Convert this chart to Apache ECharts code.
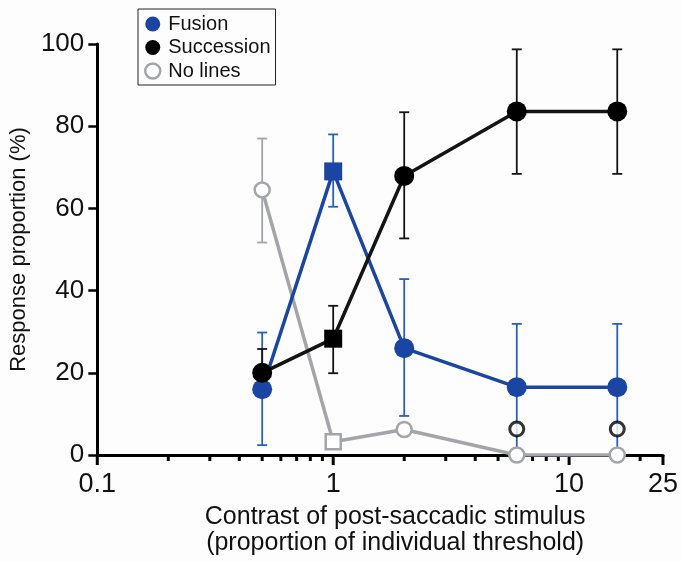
<!DOCTYPE html>
<html>
<head>
<meta charset="utf-8">
<script src="https://cdn.jsdelivr.net/npm/echarts@6/dist/echarts.min.js"></script>
<style>
  html, body { margin: 0; padding: 0; background: #fdfdfe; }
  #chart { width: 681px; height: 562px; }
</style>
</head>
<body>
<div id="chart"></div>
<script>
// 横轴: 刺激对比度 (个体阈值的倍数)
const contrast = [0.5, 1, 2, 6, 16];
// 各反应类型的均值与误差线 (%)
const fusion = [16, 69, 26, 16.5, 16.5];
const fusionLow = [2.4, 60.4, 9.5, 0, 0];
const fusionHigh = [29.8, 78, 42.8, 31.9, 31.9];
const succession = [20, 28.3, 67.9, 83.6, 83.6];
const successionLow = [14.4, 19.9, 52.7, 68.4, 68.4];
const successionHigh = [25.8, 36.3, 83.4, 98.7, 98.7];
const noLines = [64.5, 3.2, 6.2, 0, 0];
const noLinesLow = [51.7, null, null, null, null];
const noLinesHigh = [77, null, null, null, null];
// 额外的空心黑点
const extraX = [6, 16];
const extraY = [6.3, 6.3];
// 刻度
const xMajorTicks = [0.1, 1, 10, 25];
const xMinorTicks = [0.2, 0.3, 0.4, 0.5, 0.6, 0.7, 0.8, 0.9, 2, 3, 4, 5, 6, 7, 8, 9, 20];

const BLUE = '#1b45a3';
const BLUE_ERR = '#2a5fc0';
const BLACK = '#141414';
const GRAY = '#a3a5a8';
const FONT = 'Liberation Sans, Arial, sans-serif';

// x=1 处用方形标记
function points(ys, sq) {
  return contrast.map((x, i) => ({
    value: [x, ys[i]],
    symbol: x === 1 ? 'rect' : 'circle',
    symbolSize: x === 1 ? sq : undefined
  }));
}

function errData(low, high) {
  const out = [];
  contrast.forEach((x, i) => {
    if (low[i] != null) out.push([x, low[i], high[i]]);
  });
  return out;
}

// 误差线
function errSeries(name, low, high, color) {
  return {
    type: 'custom',
    name: name,
    z: 2,
    silent: true,
    data: errData(low, high),
    renderItem: (params, api) => {
      const lo = api.coord([api.value(0), api.value(1)]);
      const hi = api.coord([api.value(0), api.value(2)]);
      const w = 5;
      const st = { stroke: color, lineWidth: 1.8 };
      return {
        type: 'group',
        children: [
          { type: 'line', shape: { x1: lo[0], y1: lo[1], x2: hi[0], y2: hi[1] }, style: st },
          { type: 'line', shape: { x1: hi[0] - w, y1: hi[1], x2: hi[0] + w, y2: hi[1] }, style: st },
          { type: 'line', shape: { x1: lo[0] - w, y1: lo[1], x2: lo[0] + w, y2: lo[1] }, style: st }
        ]
      };
    }
  };
}

// 对数轴刻度线 (主/次)
function tickSeries(name, values, len) {
  return {
    type: 'custom',
    name: name,
    silent: true,
    clip: false,
    z: 1,
    data: values.map(v => [v, 0]),
    renderItem: (params, api) => {
      const p = api.coord([api.value(0), 0]);
      return {
        type: 'line',
        shape: { x1: p[0], y1: p[1], x2: p[0], y2: p[1] + len },
        style: { stroke: '#000', lineWidth: 3 }
      };
    }
  };
}

const chart = echarts.init(document.getElementById('chart'));
chart.setOption({
  backgroundColor: '#fdfdfe',
  animation: false,
  textStyle: { fontFamily: FONT },
  legend: {
    orient: 'vertical',
    left: 138,
    top: 9,
    padding: [5, 5, 4, 6],
    itemGap: 3.5,
    itemWidth: 15,
    itemHeight: 15,
    borderColor: '#222',
    borderWidth: 1,
    textStyle: { fontSize: 20, lineHeight: 20, color: '#111', fontFamily: FONT, padding: [0, 0, 0, 3] },
    data: [
      { name: 'Fusion', icon: 'circle' },
      { name: 'Succession', icon: 'circle' },
      { name: 'No lines', icon: 'circle', itemStyle: { color: '#fff', borderColor: GRAY, borderWidth: 2.5 } }
    ]
  },
  grid: { left: 97, right: 16, top: 44, bottom: 107 },
  xAxis: {
    type: 'log',
    logBase: 10,
    min: 0.1,
    max: 25,
    name: 'Contrast of post-saccadic stimulus\n(proportion of individual threshold)',
    nameLocation: 'middle',
    nameGap: 49,
    nameTextStyle: { fontSize: 25, color: '#111', lineHeight: 26, fontFamily: FONT, padding: [0, 0, 0, 30] },
    axisLine: { lineStyle: { color: '#000', width: 3 } },
    axisTick: { show: false },
    axisLabel: {
      fontSize: 27,
      color: '#111',
      margin: 16,
      formatter: v => String(+v.toPrecision(3))
    },
    splitLine: { show: false }
  },
  yAxis: {
    type: 'value',
    min: 0,
    max: 100,
    interval: 20,
    name: 'Response proportion (%)',
    nameLocation: 'middle',
    nameGap: 65,
    nameTextStyle: { fontSize: 22, color: '#111', fontFamily: FONT },
    axisLine: { show: true, lineStyle: { color: '#000', width: 3 } },
    axisTick: { show: true, length: 9, lineStyle: { color: '#000', width: 2.5 } },
    axisLabel: { fontSize: 26, color: '#111', margin: 13 },
    splitLine: { show: false }
  },
  series: [
    tickSeries('majorTicks', xMajorTicks, 10),
    tickSeries('minorTicks', xMinorTicks, 6),
    errSeries('noLinesErr', noLinesLow, noLinesHigh, GRAY),
    errSeries('fusionErr', fusionLow, fusionHigh, BLUE_ERR),
    errSeries('successionErr', successionLow, successionHigh, BLACK),
    {
      name: 'No lines',
      type: 'line',
      z: 3,
      data: points(noLines, 15),
      symbolSize: 15,
      lineStyle: { color: GRAY, width: 3.5 },
      itemStyle: { color: '#fff', borderColor: GRAY, borderWidth: 2.5 }
    },
    {
      name: 'Fusion',
      type: 'line',
      z: 4,
      data: points(fusion, 18),
      symbolSize: 20,
      lineStyle: { color: BLUE, width: 3.5 },
      itemStyle: { color: BLUE }
    },
    {
      name: 'extra',
      type: 'scatter',
      z: 5,
      data: extraX.map((x, i) => [x, extraY[i]]),
      symbol: 'circle',
      symbolSize: 14,
      itemStyle: { color: '#fff', borderColor: '#000', borderWidth: 3 }
    },
    {
      name: 'Succession',
      type: 'line',
      z: 6,
      data: points(succession, 18),
      symbolSize: 20,
      lineStyle: { color: BLACK, width: 3.5 },
      itemStyle: { color: '#000' }
    }
  ]
});
</script>
</body>
</html>
